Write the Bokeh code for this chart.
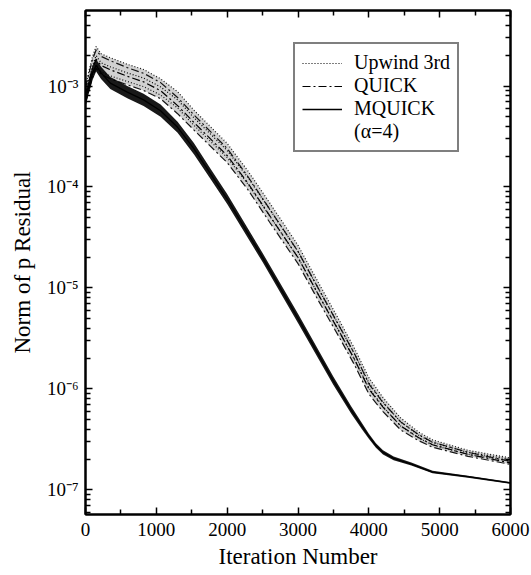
from bokeh.plotting import figure
from bokeh.models import (FixedTicker, LinearAxis, LogAxis, Legend, LegendItem,
                          Range1d, CustomJSTickFormatter, CustomLabelingPolicy)
from bokeh.embed import file_html
from bokeh.resources import INLINE

# ---------------- data ----------------
iters_mq = [0, 40, 100, 150, 220, 350, 590, 820, 1060, 1300, 1530, 1765,
            2000, 2500, 3000, 3500, 3750, 3900, 4000, 4100, 4200, 4350, 4600,
            4900, 5400, 6000]
mquick = [7.5e-4, 9.5e-4, 1.35e-3, 1.6e-3, 1.35e-3, 1.07e-3, 8.7e-4, 7.3e-4,
          5.7e-4, 3.9e-4, 2.4e-4, 1.35e-4, 7.6e-5, 2.0e-5, 5.0e-6, 1.2e-6,
          6.2e-7, 4.3e-7, 3.4e-7, 2.75e-7, 2.35e-7, 2.05e-7, 1.8e-7, 1.5e-7,
          1.35e-7, 1.17e-7]
# half thickness of the oscillation band (decades)
mquick_band = [0.07, 0.07, 0.07, 0.06, 0.06, 0.06, 0.06, 0.06, 0.06, 0.055,
               0.055, 0.05, 0.05, 0.045, 0.045, 0.04, 0.035, 0.03, 0.025, 0.022,
               0.02, 0.018, 0.015, 0.012, 0.01, 0.008]

iters_up = [0, 40, 100, 150, 220, 350, 590, 820, 1060, 1300, 1525, 2000,
            2290, 2600, 3000, 3300, 3600, 3800, 4000, 4200, 4450, 4700, 4900,
            5400, 6000]
upwind = [8.0e-4, 1.1e-3, 1.6e-3, 2.0e-3, 1.7e-3, 1.55e-3, 1.35e-3, 1.2e-3,
          9.8e-4, 7.3e-4, 4.9e-4, 2.3e-4, 1.25e-4, 6.0e-5, 2.3e-5, 9.5e-6,
          4.0e-6, 2.2e-6, 1.15e-6, 7.4e-7, 4.7e-7, 3.5e-7, 2.95e-7, 2.35e-7,
          2.0e-7]
quick = [8.0e-4, 1.05e-3, 1.5e-3, 1.85e-3, 1.6e-3, 1.45e-3, 1.25e-3, 1.1e-3,
         9.0e-4, 6.4e-4, 4.4e-4, 2.05e-4, 1.1e-4, 5.2e-5, 2.0e-5, 8.3e-6,
         3.5e-6, 1.95e-6, 1.0e-6, 6.6e-7, 4.3e-7, 3.3e-7, 2.8e-7, 2.25e-7,
         1.85e-7]
upper_band = [0.08, 0.08, 0.09, 0.09, 0.09, 0.09, 0.085, 0.085, 0.08, 0.08,
              0.075, 0.07, 0.065, 0.065, 0.06, 0.06, 0.055, 0.055, 0.05, 0.045,
              0.04, 0.03, 0.025, 0.02, 0.015]

x_ticks = [0, 1000, 2000, 3000, 4000, 5000, 6000]
x_minor = [500, 1500, 2500, 3500, 4500, 5500]
y_ticks = [1e-7, 1e-6, 1e-5, 1e-4, 1e-3]
y_tick_labels = ["10\u207b\u2077", "10\u207b\u2076", "10\u207b\u2075",
                 "10\u207b\u2074", "10\u207b\u00b3"]
y_minor = [m * d for d in [1e-8, 1e-7, 1e-6, 1e-5, 1e-4, 1e-3]
           for m in [2, 3, 4, 5, 6, 7, 8, 9]]

series_labels = ["Upwind 3rd", "QUICK", "MQUICK", "(\u03b1=4)"]
x_title = "Iteration Number"
y_title = "Norm of p Residual"

FONT = "Liberation Serif"

# ---------------- figure ----------------
p = figure(width=531, height=575, y_axis_type="log",
           x_range=Range1d(0, 6000), y_range=Range1d(5.7e-8, 5.6e-3),
           output_backend="svg", toolbar_location=None,
           min_border_left=85, min_border_right=21,
           min_border_top=10, min_border_bottom=61)
p.background_fill_color = "white"
p.border_fill_color = "white"
p.outline_line_color = "black"
p.outline_line_width = 2
p.xgrid.visible = False
p.ygrid.visible = False

xt = FixedTicker(ticks=x_ticks, minor_ticks=x_minor)
yt = FixedTicker(ticks=y_ticks, minor_ticks=y_minor)
yfmt = CustomJSTickFormatter(args=dict(vals=y_ticks, labs=y_tick_labels), code="""
    for (let i = 0; i < vals.length; i++) {
        if (Math.abs(Math.log10(tick) - Math.log10(vals[i])) < 1e-6) return labs[i];
    }
    return "";
""")
no_labels = CustomLabelingPolicy(code="if (false) { yield 0 }")

def style(ax, labels=True):
    ax.axis_line_width = 2
    ax.axis_line_color = "black"
    ax.major_tick_in = 7
    ax.major_tick_out = 0
    ax.minor_tick_in = 5
    ax.minor_tick_out = 0
    ax.major_tick_line_width = 1.5
    ax.minor_tick_line_width = 1.5
    ax.major_label_text_font = FONT
    ax.major_label_text_color = "black"
    ax.axis_label_text_font = FONT
    ax.axis_label_text_font_style = "normal"
    ax.axis_label_text_color = "black"
    if not labels:
        ax.major_label_policy = no_labels
        ax.major_label_text_font_size = "2px"
        ax.major_label_standoff = 0

xa = p.xaxis[0]
xa.ticker = xt
style(xa)
xa.major_label_text_font_size = "19px"
xa.major_label_standoff = 8
xa.axis_label = x_title
xa.axis_label_text_font_size = "23px"
xa.axis_label_standoff = 5

ya = p.yaxis[0]
ya.ticker = yt
ya.formatter = yfmt
style(ya)
ya.major_label_text_font_size = "19px"
ya.major_label_standoff = 7
ya.axis_label = y_title
ya.axis_label_text_font_size = "23px"
ya.axis_label_standoff = 9

top = LinearAxis(ticker=FixedTicker(ticks=x_ticks, minor_ticks=x_minor))
style(top, labels=False)
p.add_layout(top, "above")
right = LogAxis(ticker=FixedTicker(ticks=y_ticks, minor_ticks=y_minor))
style(right, labels=False)
p.add_layout(right, "right")

# ---------------- curves ----------------
def band(center, half):
    lo = [c * 10 ** (-h) for c, h in zip(center, half)]
    hi = [c * 10 ** (h) for c, h in zip(center, half)]
    return lo, hi

up_lo, up_hi = band(upwind, upper_band)
qk_lo, qk_hi = band(quick, upper_band)
mq_lo, mq_hi = band(mquick, mquick_band)

# grey texture under the noisy upper bands
p.varea(x=iters_up, y1=qk_lo, y2=up_hi, fill_color="black", fill_alpha=0.18)

# Upwind 3rd: dotted, stippled band
for yy in (up_lo, up_hi):
    p.line(iters_up, yy, line_color="black", line_width=1.2, line_dash="1 2", line_alpha=0.9)
r_up = p.line(iters_up, upwind, line_color="black", line_width=1.2, line_dash="1 2")

# QUICK: dash-dot band
for yy in (qk_lo, qk_hi):
    p.line(iters_up, yy, line_color="black", line_width=1.2, line_dash="8 3 2 3", line_alpha=0.9)
r_qk = p.line(iters_up, quick, line_color="black", line_width=1.2, line_dash="8 3 2 3")

# MQUICK: solid, dense band
p.varea(x=iters_mq, y1=mq_lo, y2=mq_hi, fill_color="black", fill_alpha=0.9)
r_mq = p.line(iters_mq, mquick, line_color="black", line_width=1.3)

# invisible renderer that carries the "(alpha=4)" legend row
r_note = p.line(iters_mq[:2], mquick[:2], line_alpha=0)

legend = Legend(items=[LegendItem(label=series_labels[0], renderers=[r_up]),
                       LegendItem(label=series_labels[1], renderers=[r_qk]),
                       LegendItem(label=series_labels[2], renderers=[r_mq]),
                       LegendItem(label=series_labels[3], renderers=[r_note])],
                location=(208, 362))
legend.label_text_font = FONT
legend.label_text_font_size = "20px"
legend.label_text_color = "black"
legend.glyph_width = 40
legend.glyph_height = 20
legend.label_height = 20
legend.label_standoff = 12
legend.padding = 7
legend.spacing = 0
legend.margin = 0
legend.border_line_color = "black"
legend.border_line_width = 2
legend.background_fill_color = "white"
legend.background_fill_alpha = 1
p.add_layout(legend)

open("out.html", "w").write(file_html(p, INLINE))
